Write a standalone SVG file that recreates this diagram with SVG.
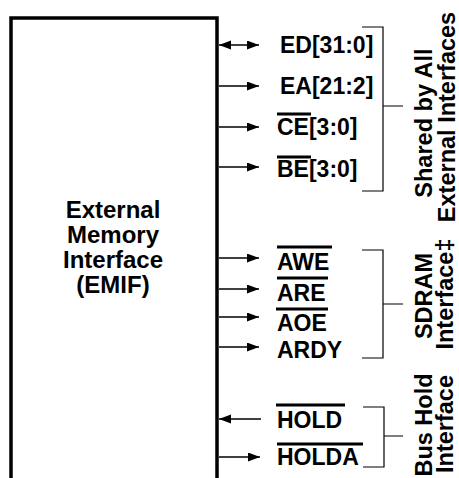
<svg xmlns="http://www.w3.org/2000/svg" width="459" height="478" viewBox="0 0 459 478">
<style>
text{font-family:"Liberation Sans",Arial,sans-serif;font-weight:bold;font-size:23px;fill:#000}
.big{font-size:24px}
.rot{font-size:23.5px}
.box{fill:#fff;stroke:#000;stroke-width:3.5}
.conn{stroke:#000;stroke-width:1.5;fill:none}
.bar{stroke:#000;stroke-width:3}
.brk{stroke:#000;stroke-width:1.2;fill:none}
</style>
<defs>
<marker id="ah" markerUnits="userSpaceOnUse" markerWidth="13" markerHeight="10" refX="12" refY="4.5" orient="auto-start-reverse" viewBox="0 0 13 10">
<path d="M0,0 L12,4.5 L0,9 z" fill="#000"/>
</marker>
</defs>
<rect width="459" height="478" fill="#fff"/>
<g id="emif">
<path class="box" d="M11,490 L11,18 L217,18 L217,490"/>
<text class="big" x="113" y="218" text-anchor="middle">External</text>
<text class="big" x="113" y="243" text-anchor="middle">Memory</text>
<text class="big" x="113" y="268" text-anchor="middle">Interface</text>
<text class="big" x="113" y="293" text-anchor="middle">(EMIF)</text>
</g>
<g id="connectors">
<line class="conn" x1="219" y1="45" x2="259" y2="45" marker-start="url(#ah)" marker-end="url(#ah)"/>
<line class="conn" x1="219" y1="86" x2="259" y2="86" marker-end="url(#ah)"/>
<line class="conn" x1="219" y1="127" x2="259" y2="127" marker-end="url(#ah)"/>
<line class="conn" x1="219" y1="167" x2="259" y2="167" marker-end="url(#ah)"/>
<line class="conn" x1="219" y1="258" x2="259" y2="258" marker-end="url(#ah)"/>
<line class="conn" x1="219" y1="289" x2="259" y2="289" marker-end="url(#ah)"/>
<line class="conn" x1="219" y1="317" x2="259" y2="317" marker-end="url(#ah)"/>
<line class="conn" x1="219" y1="347" x2="259" y2="347" marker-end="url(#ah)"/>
<line class="conn" x1="261" y1="419" x2="219" y2="419" marker-end="url(#ah)"/>
<line class="conn" x1="219" y1="457" x2="260" y2="457" marker-end="url(#ah)"/>
</g>
<g id="ED"><text x="280" y="53">ED[31:0]</text></g>
<g id="EA"><text x="280" y="94">EA[21:2]</text></g>
<g id="CE"><line class="bar" x1="277" y1="114" x2="311" y2="114"/><text x="277" y="135">CE[3:0]</text></g>
<g id="BE"><line class="bar" x1="277" y1="157" x2="311" y2="157"/><text x="277" y="177">BE[3:0]</text></g>
<g id="AWE"><line class="bar" x1="277" y1="247" x2="332" y2="247"/><text x="277" y="270">AWE</text></g>
<g id="ARE"><line class="bar" x1="277" y1="278" x2="328" y2="278"/><text x="277" y="301">ARE</text></g>
<g id="AOE"><line class="bar" x1="276" y1="309" x2="328" y2="309"/><text x="277" y="331">AOE</text></g>
<g id="ARDY"><text x="277" y="358">ARDY</text></g>
<g id="HOLD"><line class="bar" x1="276" y1="405" x2="345" y2="405"/><text x="277" y="428">HOLD</text></g>
<g id="HOLDA"><line class="bar" x1="277" y1="444" x2="363" y2="444"/><text x="277" y="465">HOLDA</text></g>
<g id="shared">
<path class="brk" d="M362,27 H383 V191 H362 M383,106 H403"/>
<text class="rot" transform="translate(432,123) rotate(-90)" text-anchor="middle">Shared by All</text>
<text class="rot" transform="translate(455,117) rotate(-90)" text-anchor="middle">External Interfaces</text>
</g>
<g id="sdram">
<path class="brk" d="M362,250 H383 V358 H362 M383,304 H403"/>
<text class="rot" transform="translate(432,296) rotate(-90)" text-anchor="middle">SDRAM</text>
<text class="rot" transform="translate(453,294) rotate(-90)" text-anchor="middle">Interface‡</text>
</g>
<g id="bushold">
<path class="brk" d="M363,407 H384 V467 H363 M384,436 H403"/>
<text class="rot" transform="translate(432,425) rotate(-90)" text-anchor="middle">Bus Hold</text>
<text class="rot" transform="translate(453,424) rotate(-90)" text-anchor="middle">Interface</text>
</g>
</svg>
